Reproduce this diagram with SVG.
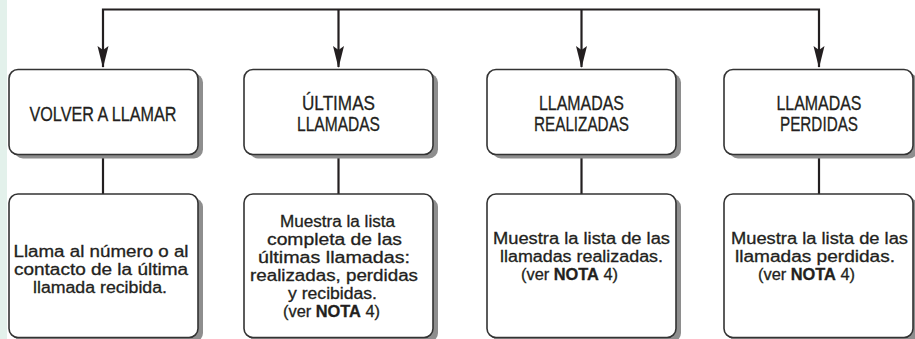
<svg xmlns="http://www.w3.org/2000/svg" width="915" height="339" viewBox="0 0 915 339">
<style>
.box{fill:#ffffff;stroke:#333333;stroke-width:1.6}
.sh{fill:#8e8e8e}
.ln{fill:none;stroke:#231f20;stroke-width:2.2}
.t{font-family:"Liberation Sans Narrow","Liberation Sans",Arial,sans-serif;font-size:21px;fill:#231f20;stroke:#231f20;stroke-width:0.3;text-anchor:middle}
.b{font-family:"Liberation Sans Narrow","Liberation Sans",Arial,sans-serif;font-size:16px;fill:#231f20;stroke:#231f20;stroke-width:0.3;text-anchor:middle}
.bold{font-weight:bold}
</style>
<rect x="0" y="0" width="7" height="339" fill="#e3f1eb"/>
<g id="connectors">
<path class="ln" d="M103,67 V9.5 H819 V67"/>
<path class="ln" d="M338.5,9.5 V67"/>
<path class="ln" d="M581.5,9.5 V67"/>
<path d="M97.5,46 L103,68 L108.5,46 L103,50 Z" fill="#231f20"/>
<path d="M333,46 L338.5,68 L344,46 L338.5,50 Z" fill="#231f20"/>
<path d="M576,46 L581.5,68 L587,46 L581.5,50 Z" fill="#231f20"/>
<path d="M813.5,46 L819,68 L824.5,46 L819,50 Z" fill="#231f20"/>
<path class="ln" d="M103,155 V194"/>
<path class="ln" d="M338.5,155 V194"/>
<path class="ln" d="M581.5,155 V194"/>
<path class="ln" d="M819,155 V194"/>
</g>
<g id="n1">
<rect class="sh" x="14" y="73.5" width="189" height="85" rx="9"/>
<rect class="box" x="9" y="69.5" width="189" height="85" rx="9"/>
<text class="t" x="103" y="121" textLength="147" lengthAdjust="spacingAndGlyphs">VOLVER A LLAMAR</text>
</g>
<g id="n2">
<rect class="sh" x="249" y="73.5" width="189" height="85" rx="9"/>
<rect class="box" x="244" y="69.5" width="189" height="85" rx="9"/>
<text class="t" x="338.5" y="109.5" textLength="73" lengthAdjust="spacingAndGlyphs">ÚLTIMAS</text>
<text class="t" x="338.5" y="131" textLength="83" lengthAdjust="spacingAndGlyphs">LLAMADAS</text>
</g>
<g id="n3">
<rect class="sh" x="492" y="73.5" width="189" height="85" rx="9"/>
<rect class="box" x="487" y="69.5" width="189" height="85" rx="9"/>
<text class="t" x="581.5" y="109.5" textLength="85" lengthAdjust="spacingAndGlyphs">LLAMADAS</text>
<text class="t" x="581.5" y="131" textLength="95" lengthAdjust="spacingAndGlyphs">REALIZADAS</text>
</g>
<g id="n4">
<rect class="sh" x="729" y="73.5" width="189" height="85" rx="9"/>
<rect class="box" x="724" y="69.5" width="189" height="85" rx="9"/>
<text class="t" x="819" y="109.5" textLength="85" lengthAdjust="spacingAndGlyphs">LLAMADAS</text>
<text class="t" x="819" y="131" textLength="78" lengthAdjust="spacingAndGlyphs">PERDIDAS</text>
</g>
<g id="n5">
<rect class="sh" x="14" y="198" width="189" height="144" rx="9"/>
<rect class="box" x="9" y="194" width="189" height="143.5" rx="9"/>
<text class="b" x="101" y="257" textLength="175" lengthAdjust="spacingAndGlyphs">Llama al número o al</text>
<text class="b" x="101" y="275" textLength="174" lengthAdjust="spacingAndGlyphs">contacto de la última</text>
<text class="b" x="100" y="293" textLength="134" lengthAdjust="spacingAndGlyphs">llamada recibida.</text>
</g>
<g id="n6">
<rect class="sh" x="249" y="198" width="189" height="144" rx="9"/>
<rect class="box" x="244" y="194" width="189" height="143.5" rx="9"/>
<text class="b" x="337.5" y="227" textLength="115" lengthAdjust="spacingAndGlyphs">Muestra la lista</text>
<text class="b" x="334.5" y="245" textLength="135" lengthAdjust="spacingAndGlyphs">completa de las</text>
<text class="b" x="334" y="263" textLength="152" lengthAdjust="spacingAndGlyphs">últimas llamadas:</text>
<text class="b" x="334" y="281" textLength="168" lengthAdjust="spacingAndGlyphs">realizadas, perdidas</text>
<text class="b" x="332.5" y="299" textLength="89" lengthAdjust="spacingAndGlyphs">y recibidas.</text>
<text class="b" x="331.5" y="317" textLength="97" lengthAdjust="spacingAndGlyphs">(ver <tspan class="bold">NOTA</tspan> 4)</text>
</g>
<g id="n7">
<rect class="sh" x="492" y="198" width="189" height="144" rx="9"/>
<rect class="box" x="487" y="194" width="189" height="143.5" rx="9"/>
<text class="b" x="581.5" y="244" textLength="177" lengthAdjust="spacingAndGlyphs">Muestra la lista de las</text>
<text class="b" x="581.5" y="262" textLength="163" lengthAdjust="spacingAndGlyphs">llamadas realizadas.</text>
<text class="b" x="569.5" y="280" textLength="97" lengthAdjust="spacingAndGlyphs">(ver <tspan class="bold">NOTA</tspan> 4)</text>
</g>
<g id="n8">
<rect class="sh" x="729" y="198" width="189" height="144" rx="9"/>
<rect class="box" x="724" y="194" width="189" height="143.5" rx="9"/>
<text class="b" x="819.5" y="244" textLength="177" lengthAdjust="spacingAndGlyphs">Muestra la lista de las</text>
<text class="b" x="815" y="262" textLength="160" lengthAdjust="spacingAndGlyphs">llamadas perdidas.</text>
<text class="b" x="806.5" y="280" textLength="97" lengthAdjust="spacingAndGlyphs">(ver <tspan class="bold">NOTA</tspan> 4)</text>
</g>
</svg>
